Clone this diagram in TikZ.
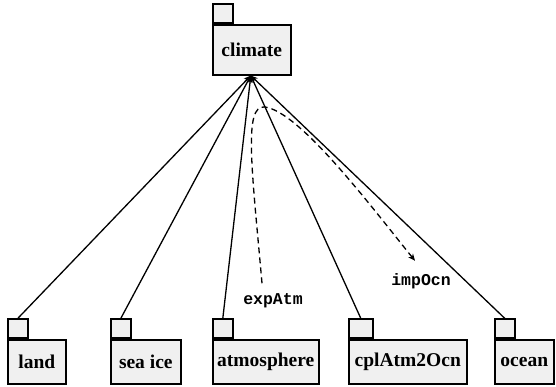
\documentclass[tikz,border=0pt]{standalone}
\usepackage{fontspec}
\setmainfont{Liberation Serif}
\setmonofont{Liberation Mono}
\usetikzlibrary{arrows.meta,positioning}

\tikzset{
    pkg/.style={draw, line width=1.6pt, fill=gray!12, inner sep=0pt,
        minimum height=44pt, anchor=north west,
        font=\fontsize{19.5}{22}\selectfont\bfseries},
    tab/.style={draw, line width=1.6pt, fill=gray!12, inner sep=0pt,
        minimum width=20pt, minimum height=19pt, anchor=south west},
    lbl/.style={font=\fontsize{16.5}{18}\selectfont\ttfamily\bfseries},
    dep/.style={line width=1.3pt, -{Stealth[length=7pt,width=6pt]}},
}

\begin{document}
\begin{tikzpicture}[x=1pt,y=-1pt]
    \useasboundingbox (0,0) rectangle (556,387);
    % packages
    \node[pkg, minimum width=78pt, minimum height=50pt] (climate) at (212,24) {climate};
    \node[pkg, minimum width=58pt] (land) at (7,339) {land};
    \node[pkg, minimum width=70pt] (seaice) at (110,339) {sea ice};
    \node[pkg, minimum width=106pt] (atmosphere) at (212,339) {atmosphere};
    \node[pkg, minimum width=118pt] (cpl) at (348,339) {cplAtm2Ocn};
    \node[pkg, minimum width=59pt] (ocean) at (494,339) {ocean};
    \foreach \p in {climate,land,seaice,atmosphere,ocean} {
        \node[tab] (\p tab) at (\p.north west) {};
    }
    \node[tab, minimum width=24pt] (cpltab) at (cpl.north west) {};
    \foreach \p in {land,seaice,atmosphere,cpl,ocean} {
        \draw[dep] (\p tab.north) -- ([xshift=-1pt]climate.south);
    }
    % coupling
    \node[lbl] (expAtm) at (273,301) {expAtm};
    \node[lbl] (impOcn) at (421,281) {impOcn};
    \draw[dep, dash pattern=on 6pt off 4pt]
        ([xshift=-11pt,yshift=7pt]expAtm.north)
        .. controls (252,170) and (243,104) .. (265,107)
        .. controls (300,112) and (370,205) .. ([xshift=-6pt,yshift=9pt]impOcn.north);
\end{tikzpicture}
\end{document}
